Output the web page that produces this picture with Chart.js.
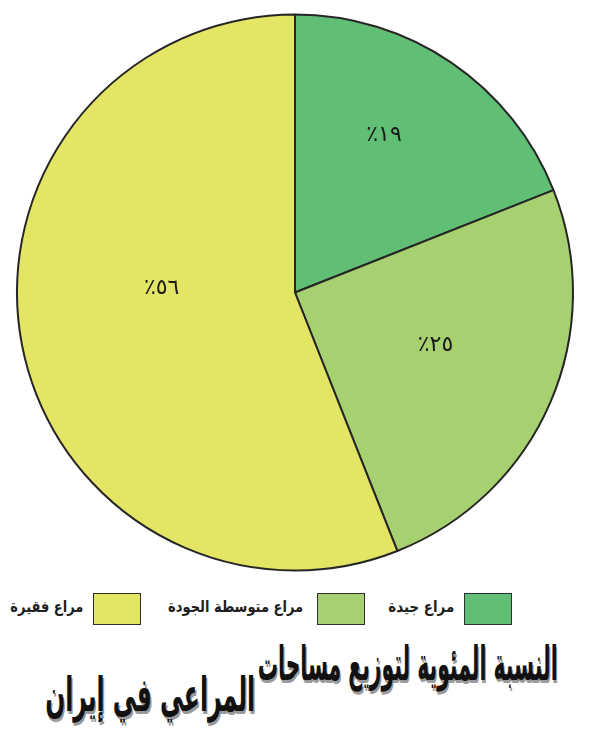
<!DOCTYPE html>
<html lang="ar">
<head>
<meta charset="utf-8">
<script src="https://cdn.jsdelivr.net/npm/chart.js@4.4.1/dist/chart.umd.min.js"></script>
<style>
  html, body { margin: 0; padding: 0; background: #ffffff; }
  body { width: 594px; height: 750px; position: relative; overflow: hidden; font-family: "DejaVu Sans", sans-serif; }
  #pieBox { position: absolute; left: 0; top: 0; width: 590px; height: 585px; }
  .legend-item { position: absolute; left: 0; top: 593px; width: 594px; height: 32px; }
  .legend-box { position: absolute; top: 0; width: 46px; height: 30px; border: 1.5px solid #2f2f2f; }
  .legend-text { position: absolute; top: 5px; font: bold 14.5px "DejaVu Sans", sans-serif; color: #1e1e1e; direction: rtl;
                 white-space: nowrap; transform-origin: right center; }
  .title-line { position: absolute; font: bold 36px "DejaVu Sans", sans-serif; color: #111; direction: rtl; white-space: nowrap;
                text-shadow: 2px 2px 0 #9a9a9a; transform-origin: right top; }
</style>
</head>
<body>
<div id="pieBox"><canvas id="pie"></canvas></div>
<div id="legend"></div>
<div id="t1" class="title-line"></div>
<div id="t2" class="title-line"></div>
<script>
// Pasture categories, in clockwise order from twelve o'clock
const categories = ["مراع جيدة", "مراع متوسطة الجودة", "مراع فقيرة"];
// Share of total pasture area, percent
const shares = [19, 25, 56];
// Slice labels as printed
const shareLabels = ["٪١٩", "٪٢٥", "٪٥٦"];
const sliceColors = ["#60bf74", "#a7d171", "#e3e665"];
const titleLines = ["النسبة المئوية لتوزيع مساحات", "المراعي في إيران"];

// Label placement per slice: fraction of radius and angular nudge (degrees)
const labelPlacement = [
  { r: 0.65, shift: -4.7 },
  { r: 0.54, shift: -2.8 },
  { r: 0.48, shift: 12.8 }
];

const sliceLabelPlugin = {
  id: 'sliceLabels',
  afterDatasetsDraw(chart) {
    const ctx = chart.ctx;
    const meta = chart.getDatasetMeta(0);
    ctx.save();
    ctx.font = '22px "DejaVu Sans", sans-serif';
    ctx.fillStyle = '#1a1a1a';
    ctx.textAlign = 'center';
    ctx.textBaseline = 'middle';
    meta.data.forEach((arc, i) => {
      const p = arc.getProps(['x', 'y', 'startAngle', 'endAngle', 'outerRadius'], true);
      const place = labelPlacement[i];
      const a = (p.startAngle + p.endAngle) / 2 + place.shift * Math.PI / 180;
      const rr = p.outerRadius * place.r;
      ctx.fillText(shareLabels[i], p.x + Math.cos(a) * rr, p.y + Math.sin(a) * rr);
    });
    ctx.restore();
  }
};

new Chart(document.getElementById('pie'), {
  type: 'pie',
  data: {
    labels: categories,
    datasets: [{
      data: shares,
      backgroundColor: sliceColors,
      borderColor: '#262626',
      borderWidth: 2
    }]
  },
  options: {
    responsive: true,
    maintainAspectRatio: false,
    animation: false,
    radius: 278,
    plugins: { legend: { display: false }, tooltip: { enabled: false } }
  },
  plugins: [sliceLabelPlugin]
});

// Legend, laid out right to left
const legendSlots = [
  { box: 464, textRight: 454, textWidth: 66 },
  { box: 317, textRight: 303, textWidth: 135 },
  { box: 93,  textRight: 83,  textWidth: 73 }
];
const legend = document.getElementById('legend');
categories.forEach((name, i) => {
  const item = document.createElement('div');
  item.className = 'legend-item';
  const box = document.createElement('div');
  box.className = 'legend-box';
  box.style.left = legendSlots[i].box + 'px';
  box.style.background = sliceColors[i];
  const txt = document.createElement('div');
  txt.className = 'legend-text';
  txt.style.right = (594 - legendSlots[i].textRight) + 'px';
  txt.textContent = name;
  item.appendChild(box);
  item.appendChild(txt);
  legend.appendChild(item);
  const w = txt.getBoundingClientRect().width;
  txt.style.transform = 'scale(' + (legendSlots[i].textWidth / w) + ', 1.1)';
});

// Two-line headline, staggered
function placeTitle(el, text, right, top, width) {
  el.textContent = text;
  el.style.right = (594 - right) + 'px';
  el.style.top = top + 'px';
  const w = el.getBoundingClientRect().width;
  el.style.transform = 'scale(' + (width / w) + ', 1.3)';
}
placeTitle(document.getElementById('t1'), titleLines[0], 558, 637, 300);
placeTitle(document.getElementById('t2'), titleLines[1], 255, 668, 210);
</script>
</body>
</html>
